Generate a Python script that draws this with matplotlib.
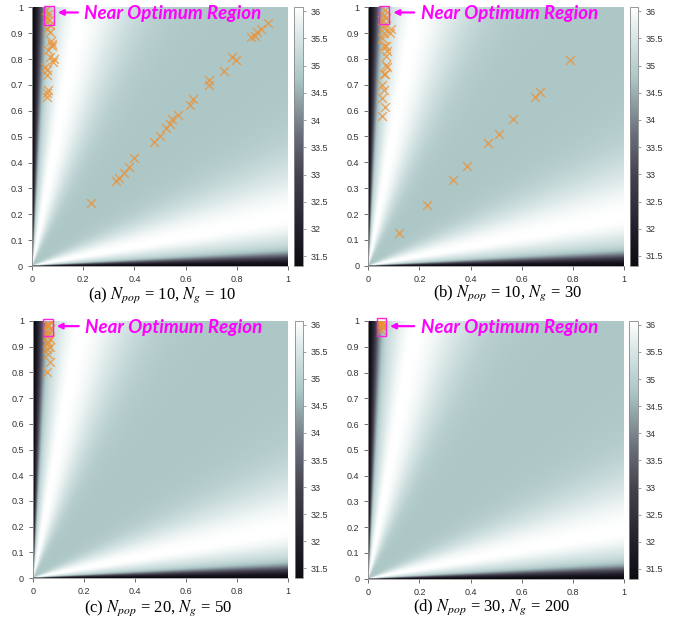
import numpy as np
import matplotlib.pyplot as plt
from matplotlib.colors import LinearSegmentedColormap
from matplotlib.patches import Rectangle

plt.rcParams['mathtext.fontset'] = 'stix'

# background surface: value vs. angle distance from the axes (degrees)
VMIN, VMAX = 31.32, 36.07
BASE, PEAK_T = 34.8, 10.5

# scatter points for each panel (x, y)
a_x = [0.23, 0.33, 0.34, 0.36, 0.38, 0.40, 0.475, 0.50, 0.525, 0.54, 0.545, 0.57, 0.617, 0.63,
       0.69, 0.69, 0.75, 0.783, 0.797, 0.855, 0.87, 0.878, 0.894, 0.923,
       0.063, 0.057, 0.07, 0.077, 0.063, 0.07, 0.083, 0.05, 0.057, 0.063, 0.057, 0.06,
       0.065, 0.075, 0.08, 0.055, 0.07, 0.06, 0.085, 0.06]
a_y = [0.242, 0.33, 0.342, 0.36, 0.383, 0.416, 0.48, 0.502, 0.532, 0.548, 0.567, 0.582, 0.624, 0.644,
       0.699, 0.718, 0.754, 0.806, 0.798, 0.885, 0.89, 0.905, 0.918, 0.94,
       0.976, 0.918, 0.905, 0.86, 0.834, 0.808, 0.789, 0.77, 0.757, 0.68, 0.654, 0.67,
       0.95, 0.87, 0.85, 0.99, 0.93, 0.96, 0.8, 0.74]
b_x = [0.12, 0.23, 0.33, 0.385, 0.47, 0.51, 0.565, 0.652, 0.671, 0.789,
       0.055, 0.065, 0.055, 0.06, 0.055, 0.06, 0.065, 0.07, 0.075, 0.07, 0.075, 0.07, 0.06,
       0.085, 0.09, 0.06, 0.06, 0.055, 0.06, 0.065, 0.06, 0.07, 0.055]
b_y = [0.125, 0.235, 0.33, 0.387, 0.475, 0.51, 0.568, 0.654, 0.674, 0.796,
       0.58, 0.615, 0.65, 0.68, 0.70, 0.74, 0.74, 0.775, 0.77, 0.81, 0.83, 0.85, 0.85,
       0.90, 0.915, 0.90, 0.92, 0.95, 0.97, 0.99, 0.93, 0.96, 0.88]
c_x = [0.055, 0.065, 0.06, 0.055, 0.065, 0.06, 0.055, 0.06, 0.065, 0.06, 0.055, 0.065,
       0.06, 0.055, 0.065, 0.06]
c_y = [0.80, 0.84, 0.87, 0.89, 0.90, 0.92, 0.94, 0.95, 0.97, 0.98, 0.99, 1.0,
       0.96, 0.91, 0.93, 0.985]
d_x = [0.05, 0.052, 0.048, 0.051, 0.049, 0.05]
d_y = [0.965, 0.975, 0.985, 0.99, 0.995, 1.0]

captions = [r'(a) $N_{pop}$ = 10, $N_g$ = 10', r'(b) $N_{pop}$ = 10, $N_g$ = 30',
            r'(c) $N_{pop}$ = 20, $N_g$ = 50', r'(d) $N_{pop}$ = 30, $N_g$ = 200']
rects = [(0.045, 0.93, 0.04, 0.075), (0.043, 0.935, 0.039, 0.07),
         (0.039, 0.94, 0.038, 0.068), (0.033, 0.94, 0.036, 0.07)]

cmap = LinearSegmentedColormap.from_list('bg', [
    (0.0, '#0d0b12'), (0.15, '#25202e'), (0.35, '#45424f'), (0.5, '#676b78'),
    (0.62, '#8a9ba0'), (0.72, '#aac4c4'), (0.8, '#c0d5d5'), (0.9, '#dde9e9'), (1.0, '#ffffff')])

# surface
g = np.linspace(0, 1, 500)
X, Y = np.meshgrid(g, g)
theta = np.degrees(np.arctan2(Y, X))
t = np.minimum(theta, 90 - theta)
sig = np.where(t < PEAK_T, 6.0, 12.0)
bump = BASE + (VMAX - BASE) * np.exp(-((t - PEAK_T) / sig) ** 2)
Z = VMIN + (bump - VMIN) * (1 - np.exp(-(t / 2.3) ** 2))

W, H = 673, 625
fig = plt.figure(figsize=(W / 100, H / 100), dpi=100)

layout = [  # axes box (l, r, top, bottom) px, colorbar (l, r), caption (x, y)
    ((32, 288, 7.3, 266), (294, 303), (162, 295)),
    ((368.3, 624, 7.3, 265.7), (630, 638), (507, 293)),
    ((33, 288, 321, 578), (295, 303), (158, 608)),
    ((368.3, 624, 321, 578.7), (629, 638), (492, 607)),
]
pts = [(a_x, a_y), (b_x, b_y), (c_x, c_y), (d_x, d_y)]

for i, ((l, r, tp, bt), (cl, cr), (cx, cy)) in enumerate(layout):
    ax = fig.add_axes([l / W, 1 - bt / H, (r - l) / W, (bt - tp) / H])
    im = ax.imshow(Z, extent=[0, 1, 0, 1], origin='lower', cmap=cmap,
                   vmin=VMIN, vmax=VMAX, aspect='auto', interpolation='bilinear')
    ax.scatter(pts[i][0], pts[i][1], marker='x', s=40, color='#ee9030', alpha=0.75,
               linewidths=1.0, zorder=3)
    x0, y0, w, h = rects[i]
    ax.add_patch(Rectangle((x0, y0), w, h, fill=False, edgecolor='#ff22dd',
                           linewidth=1.0, clip_on=False, zorder=4))
    ax.annotate('', xy=(x0 + w + 0.005, 0.98), xytext=(0.19, 0.98),
                arrowprops=dict(arrowstyle='-|>', color='#ff00ff', lw=1.6,
                                mutation_scale=8), annotation_clip=False)
    ax.text(0.205, 0.975, 'Near Optimum Region', color='#ff00ff', fontsize=13.5,
            family='Lato', fontweight='bold', fontstyle='italic', va='center', ha='left')
    ax.set_xlim(0, 1)
    ax.set_ylim(0, 1)
    ax.set_xticks(np.arange(0, 1.01, 0.2))
    ax.set_xticklabels(['0', '0.2', '0.4', '0.6', '0.8', '1'], family='Liberation Sans')
    ax.set_yticks(np.arange(0, 1.01, 0.1))
    ax.set_yticklabels(['0'] + ['%.1f' % v for v in np.arange(0.1, 0.95, 0.1)] + ['1'],
                       family='Liberation Sans')
    ax.tick_params(labelsize=6.5, colors='#555555', labelcolor='#333333', length=3, width=0.6)
    for s in ['top', 'right']:
        ax.spines[s].set_visible(False)
    for s in ['left', 'bottom']:
        ax.spines[s].set_color('#999999')
        ax.spines[s].set_linewidth(0.6)

    cax = fig.add_axes([cl / W, 1 - bt / H, (cr - cl) / W, (bt - tp) / H])
    cb = fig.colorbar(im, cax=cax, ticks=np.arange(31.5, 36.01, 0.5))
    cb.ax.set_yticklabels(['31.5', '32', '32.5', '33', '33.5', '34', '34.5', '35', '35.5', '36'],
                          family='Liberation Sans')
    cb.ax.tick_params(labelsize=6.5, colors='#777777', labelcolor='#333333', length=2, width=0.5)
    cb.outline.set_edgecolor('#888888')
    cb.outline.set_linewidth(0.6)

    fig.text(cx / W, 1 - cy / H, captions[i], ha='center', va='center', fontsize=12,
             family='Liberation Serif')

fig.savefig('out.png', dpi=100)
